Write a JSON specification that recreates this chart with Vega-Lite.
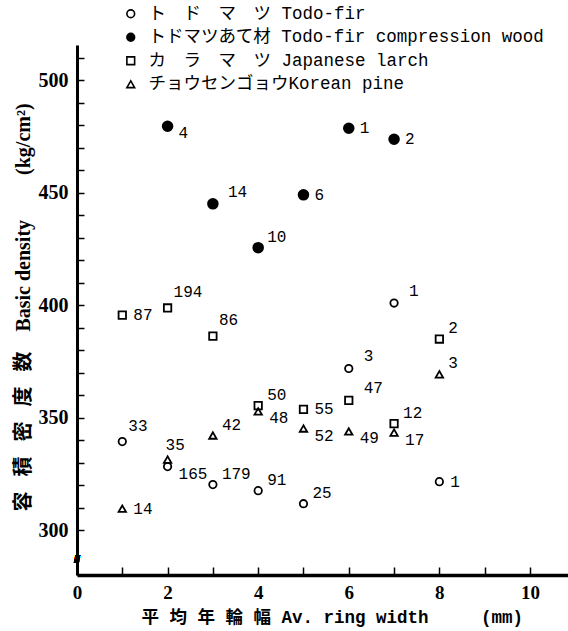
{
  "$schema": "https://vega.github.io/schema/vega-lite/v6.json",
  "width": 491,
  "height": 530,
  "autosize": {"type": "none"},
  "padding": {"left": 77, "top": 45, "right": 0, "bottom": 56},
  "background": "white",
  "config": {
    "view": {"stroke": null},
    "axis": {"grid": false},
    "legend": {
      "orient": "none", "legendX": 45, "legendY": -40,
      "labelFont": "Liberation Mono, Noto Sans CJK JP", "labelFontSize": 17.5, "labelColor": "black",
      "labelLimit": 600, "symbolSize": 60, "symbolStrokeWidth": 1.6, "symbolStrokeColor": "black",
      "labelOffset": 9, "rowPadding": 4.5
    }
  },
  "data": {"values": [
    {"species": "Todo-fir", "x": 1, "y": 339.3, "n": "33", "pos": "n1"},
    {"species": "Todo-fir", "x": 2, "y": 328.2, "n": "165", "pos": "se"},
    {"species": "Todo-fir", "x": 3, "y": 320.2, "n": "179", "pos": "ne"},
    {"species": "Todo-fir", "x": 4, "y": 317.5, "n": "91", "pos": "ne"},
    {"species": "Todo-fir", "x": 5, "y": 311.7, "n": "25", "pos": "ne"},
    {"species": "Todo-fir", "x": 6, "y": 371.8, "n": "3", "pos": "nefar"},
    {"species": "Todo-fir", "x": 7, "y": 400.9, "n": "1", "pos": "nefar"},
    {"species": "Todo-fir", "x": 8, "y": 321.5, "n": "1", "pos": "e"},
    {"species": "Todo-fir compression wood", "x": 2, "y": 479.5, "n": "4", "pos": "se"},
    {"species": "Todo-fir compression wood", "x": 3, "y": 445.0, "n": "14", "pos": "nefar"},
    {"species": "Todo-fir compression wood", "x": 4, "y": 425.5, "n": "10", "pos": "ne"},
    {"species": "Todo-fir compression wood", "x": 5, "y": 449.0, "n": "6", "pos": "e"},
    {"species": "Todo-fir compression wood", "x": 6, "y": 478.6, "n": "1", "pos": "e"},
    {"species": "Todo-fir compression wood", "x": 7, "y": 473.7, "n": "2", "pos": "e"},
    {"species": "Japanese larch", "x": 1, "y": 395.5, "n": "87", "pos": "e"},
    {"species": "Japanese larch", "x": 2, "y": 398.7, "n": "194", "pos": "n1"},
    {"species": "Japanese larch", "x": 3, "y": 386.2, "n": "86", "pos": "n1"},
    {"species": "Japanese larch", "x": 4, "y": 355.3, "n": "50", "pos": "ne"},
    {"species": "Japanese larch", "x": 5, "y": 353.6, "n": "55", "pos": "e"},
    {"species": "Japanese larch", "x": 6, "y": 357.6, "n": "47", "pos": "nefar"},
    {"species": "Japanese larch", "x": 7, "y": 347.3, "n": "12", "pos": "ne"},
    {"species": "Japanese larch", "x": 8, "y": 384.9, "n": "2", "pos": "ne"},
    {"species": "Korean pine", "x": 1, "y": 309.5, "n": "14", "pos": "e"},
    {"species": "Korean pine", "x": 2, "y": 331.3, "n": "35", "pos": "n"},
    {"species": "Korean pine", "x": 3, "y": 342.0, "n": "42", "pos": "ne"},
    {"species": "Korean pine", "x": 4, "y": 352.7, "n": "48", "pos": "se"},
    {"species": "Korean pine", "x": 5, "y": 345.1, "n": "52", "pos": "se"},
    {"species": "Korean pine", "x": 6, "y": 343.8, "n": "49", "pos": "se"},
    {"species": "Korean pine", "x": 7, "y": 343.3, "n": "17", "pos": "se"},
    {"species": "Korean pine", "x": 8, "y": 369.2, "n": "3", "pos": "ne"}
  ]},
  "encoding": {
    "x": {
      "field": "x", "type": "quantitative",
      "scale": {"domain": [0, 10.84], "nice": false, "zero": false},
      "axis": {
        "title": "平 均 年 輪 幅 Av. ring width\u00a0\u00a0\u00a0\u00a0\u00a0(mm)",
        "values": [0, 1, 2, 3, 4, 5, 6, 7, 8, 9, 10],
        "labelExpr": "datum.value % 2 == 0 ? datum.label : ''",
        "tickSize": -8, "tickWidth": 1.5, "tickColor": "black",
        "domainWidth": 3.5, "domainColor": "black",
        "labelFont": "Liberation Serif", "labelFontWeight": "bold", "labelFontSize": 19,
        "labelColor": "black", "labelPadding": 16, "labelFlush": false, "labelOverlap": false,
        "titleFont": "Liberation Mono, Noto Sans CJK JP", "titleFontWeight": "bold", "titleFontSize": 17.5,
        "titleColor": "black", "titleAnchor": "start", "titleAlign": "left", "titleX": 64, "titleY": 42, "titleBaseline": "middle"
      }
    },
    "y": {
      "field": "y", "type": "quantitative",
      "scale": {"domain": [280, 515.6], "nice": false, "zero": false},
      "axis": {
        "title": "容\u00a0\u00a0\u00a0積\u00a0\u00a0\u00a0密\u00a0\u00a0\u00a0度\u00a0\u00a0\u00a0数\u00a0\u00a0\u00a0\u00a0Basic density\u00a0\u00a0\u00a0\u00a0\u00a0\u00a0\u00a0\u00a0\u00a0(kg/cm²)",
        "values": [300, 310, 320, 330, 340, 350, 360, 370, 380, 390, 400, 410, 420, 430, 440, 450, 460, 470, 480, 490, 500, 510],
        "labelExpr": "datum.value % 50 == 0 ? datum.label : ''",
        "tickSize": -7, "tickWidth": 1.5, "tickColor": "black",
        "domainWidth": 3, "domainColor": "black",
        "labelFont": "Liberation Serif", "labelFontWeight": "bold", "labelFontSize": 20,
        "labelColor": "black", "labelPadding": 16, "labelFlush": false, "labelOverlap": false,
        "titleFont": "Liberation Serif, Noto Sans CJK JP", "titleFontWeight": "bold", "titleFontSize": 20,
        "titleColor": "black", "titleX": -54, "titleY": 262, "titleAlign": "center", "titleBaseline": "middle"
      }
    }
  },
  "layer": [
    {
      "transform": [{"filter": "datum.species != 'Todo-fir compression wood'"}],
      "mark": {"type": "point", "strokeWidth": 1.8, "opacity": 1, "size": 55},
      "encoding": {
        "shape": {
          "field": "species", "type": "nominal",
          "scale": {"domain": ["Todo-fir", "Todo-fir compression wood", "Japanese larch", "Korean pine"], "range": ["circle", "circle", "square", "triangle-up"]},
          "legend": {
            "title": null,
            "labelExpr": "datum.label == 'Todo-fir' ? 'ト　ド　マ　ツ Todo-fir' : datum.label == 'Todo-fir compression wood' ? 'トドマツあて材 Todo-fir compression wood' : datum.label == 'Japanese larch' ? 'カ　ラ　マ　ツ Japanese larch' : 'チョウセンゴョウKorean pine'"
          }
        },
        "fill": {
          "field": "species", "type": "nominal",
          "scale": {"domain": ["Todo-fir", "Todo-fir compression wood", "Japanese larch", "Korean pine"], "range": ["transparent", "black", "transparent", "transparent"]},
          "legend": {
            "title": null,
            "labelExpr": "datum.label == 'Todo-fir' ? 'ト　ド　マ　ツ Todo-fir' : datum.label == 'Todo-fir compression wood' ? 'トドマツあて材 Todo-fir compression wood' : datum.label == 'Japanese larch' ? 'カ　ラ　マ　ツ Japanese larch' : 'チョウセンゴョウKorean pine'"
          }
        },
        "stroke": {
          "field": "species", "type": "nominal",
          "scale": {"domain": ["Todo-fir", "Todo-fir compression wood", "Japanese larch", "Korean pine"], "range": ["black", "black", "black", "black"]},
          "legend": {
            "title": null,
            "labelExpr": "datum.label == 'Todo-fir' ? 'ト　ド　マ　ツ Todo-fir' : datum.label == 'Todo-fir compression wood' ? 'トドマツあて材 Todo-fir compression wood' : datum.label == 'Japanese larch' ? 'カ　ラ　マ　ツ Japanese larch' : 'チョウセンゴョウKorean pine'"
          }
        }
      }
    },
    {
      "transform": [{"filter": "datum.species == 'Todo-fir compression wood'"}],
      "mark": {"type": "point", "strokeWidth": 1.8, "opacity": 1, "size": 95},
      "encoding": {
        "shape": {"field": "species", "type": "nominal"},
        "fill": {"field": "species", "type": "nominal"},
        "stroke": {"field": "species", "type": "nominal"}
      }
    },
    {
      "transform": [{"filter": "datum.pos == 'ne'"}],
      "mark": {"type": "text", "font": "Liberation Mono", "fontSize": 16, "align": "left", "baseline": "middle", "dx": 9, "dy": -11, "color": "black"},
      "encoding": {"text": {"field": "n"}}
    },
    {
      "transform": [{"filter": "datum.pos == 'nefar'"}],
      "mark": {"type": "text", "font": "Liberation Mono", "fontSize": 16, "align": "left", "baseline": "middle", "dx": 15, "dy": -12, "color": "black"},
      "encoding": {"text": {"field": "n"}}
    },
    {
      "transform": [{"filter": "datum.pos == 'n1'"}],
      "mark": {"type": "text", "font": "Liberation Mono", "fontSize": 16, "align": "left", "baseline": "middle", "dx": 6, "dy": -16, "color": "black"},
      "encoding": {"text": {"field": "n"}}
    },
    {
      "transform": [{"filter": "datum.pos == 'e'"}],
      "mark": {"type": "text", "font": "Liberation Mono", "fontSize": 16, "align": "left", "baseline": "middle", "dx": 11, "dy": 0, "color": "black"},
      "encoding": {"text": {"field": "n"}}
    },
    {
      "transform": [{"filter": "datum.pos == 'se'"}],
      "mark": {"type": "text", "font": "Liberation Mono", "fontSize": 16, "align": "left", "baseline": "middle", "dx": 11, "dy": 7, "color": "black"},
      "encoding": {"text": {"field": "n"}}
    },
    {
      "transform": [{"filter": "datum.pos == 'n'"}],
      "mark": {"type": "text", "font": "Liberation Mono", "fontSize": 16, "align": "left", "baseline": "middle", "dx": -2, "dy": -15, "color": "black"},
      "encoding": {"text": {"field": "n"}}
    },
    {
      "mark": {"type": "text", "text": "//", "font": "Liberation Sans", "fontSize": 11, "fontWeight": "bold", "color": "black"},
      "encoding": {"x": {"datum": 0}, "y": {"datum": 286.6}}
    }
  ]
}
